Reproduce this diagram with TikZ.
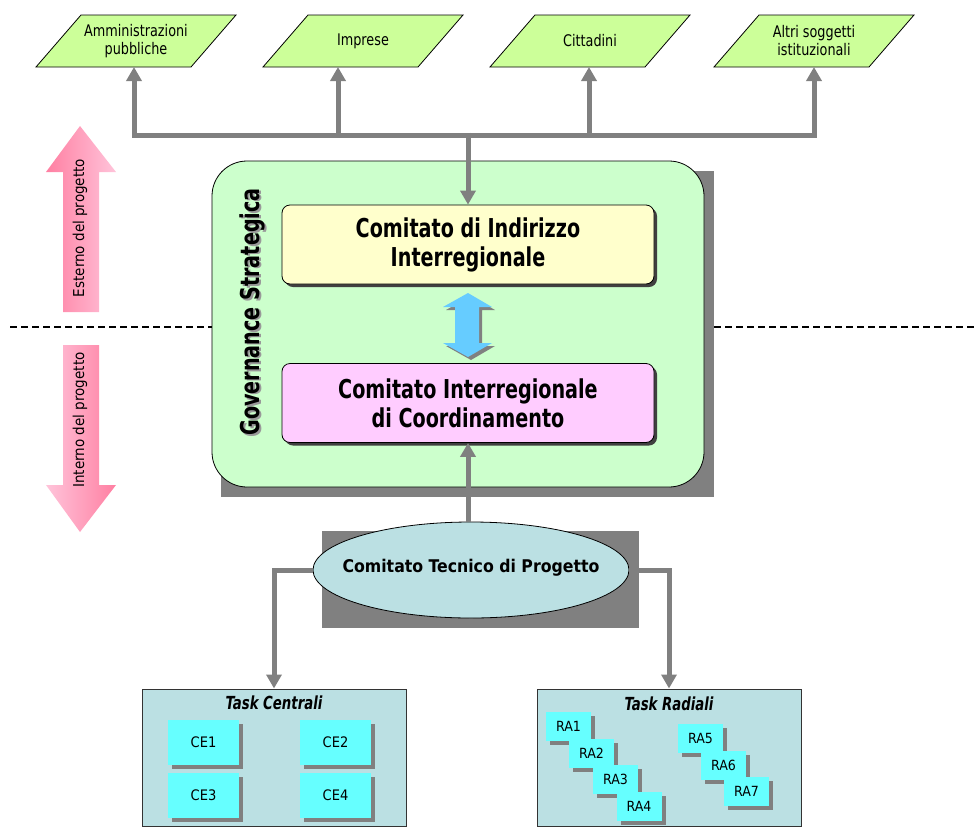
\documentclass[tikz,border=0pt]{standalone}
\usepackage{fontspec}
\setmainfont{DejaVu Sans Condensed}
\newfontfamily\sqH{DejaVu Sans Condensed}[FakeStretch=0.82]
\newfontfamily\sqN{DejaVu Sans Condensed}[FakeStretch=0.89]
\usetikzlibrary{arrows.meta,shapes.geometric,shadows,calc}
\definecolor{paragreen}{HTML}{CCFF99}
\definecolor{govgreen}{HTML}{CCFFCC}
\definecolor{linegray}{HTML}{808080}
\definecolor{ciiyellow}{HTML}{FFFFCC}
\definecolor{cicpink}{HTML}{FFCCFF}
\definecolor{teal}{HTML}{BBE0E3}
\definecolor{taskcyan}{HTML}{66FFFF}
\definecolor{arrowblue}{HTML}{66CCFF}
\definecolor{pinkdark}{HTML}{FF7FA2}
\definecolor{pinklight}{HTML}{FFC4DA}
\newcommand\mkpara[3]{%
  \draw[parashape] ({#2-100},67) -- ({#2+55},67) -- ({#2+100},15) -- ({#2-55},15) -- cycle;
  \node[paratext] (#1) at (#2,41) {#3};
}
\begin{document}
\begin{tikzpicture}[x=1pt,y=-1pt,
  parashape/.style={draw=black, fill=paragreen, line width=0.8pt},
  paratext/.style={minimum width=110pt, minimum height=52pt, inner sep=0pt, align=center, font=\sqN\fontsize{16}{18}\selectfont},
  gline/.style={draw=linegray, line width=5pt},
  garrow/.style={gline, -{Triangle[width=15pt,length=14pt]}},
  combox/.style={draw=black, line width=0.8pt, rounded corners=8pt, minimum width=372pt, minimum height=79pt, align=center,
     font=\sqH\bfseries\fontsize{26}{29}\selectfont, drop shadow={shadow xshift=3pt, shadow yshift=-3pt, fill=black!75, opacity=1}},
  taskbox/.style={draw=black!80, line width=1pt, fill=teal, minimum width=264pt, minimum height=137pt},
  tasktitle/.style={font=\sqH\bfseries\itshape\fontsize{18}{20}\selectfont},
  cebox/.style={fill=taskcyan, minimum width=71pt, minimum height=45pt, inner sep=0pt, font=\fontsize{14.5}{16}\selectfont,
     drop shadow={shadow xshift=4pt, shadow yshift=-4pt, fill=linegray, opacity=1}},
  rabox/.style={fill=taskcyan, minimum width=45pt, minimum height=29pt, inner sep=0pt, font=\fontsize{14}{16}\selectfont,
     drop shadow={shadow xshift=4pt, shadow yshift=-4pt, fill=linegray, opacity=1}},
  sidetext/.style={rotate=90, font=\fontsize{15}{17}\selectfont}
]
\useasboundingbox (0,0) rectangle (978,828);

% target parallelograms
\mkpara{amm}{136}{Amministrazioni\\pubbliche}
\mkpara{imp}{363}{Imprese}
\mkpara{cit}{590}{Cittadini}
\mkpara{alt}{814}{Altri soggetti\\istituzionali}

% dashed separator
\draw[dash pattern=on 7pt off 4pt, line width=1.5pt] (10,327) -- (212,327);
\draw[dash pattern=on 7pt off 4pt, line width=1.5pt] (714,327) -- (978,327);

% pink side arrows
\shade[left color=pinkdark, right color=pinklight] (80,126) -- (116,172) -- (99,172) -- (99,312) -- (63,312) -- (63,172) -- (46,172) -- cycle;
\shade[left color=pinklight, right color=pinkdark] (63,345) -- (99,345) -- (99,485) -- (116,485) -- (80,532) -- (46,485) -- (63,485) -- cycle;
\node[sidetext] (est) at (80,228) {Esterno del progetto};
\node[sidetext] (int) at (80,420) {Interno del progetto};

% governance box
\fill[linegray] (221,171) rectangle (714,497);
\node[draw=black, line width=0.8pt, fill=govgreen, rounded corners=35pt, minimum width=492pt, minimum height=326pt] (gov) at (458,324) {};
\node[rotate=90, font=\sqH\bfseries\fontsize{26}{29}\selectfont, text=black!40] at (254,313.5) {Governance Strategica};
\node[rotate=90, font=\sqH\bfseries\fontsize{26}{29}\selectfont] (govt) at (252.5,312) {Governance Strategica};

\node[combox, fill=ciiyellow] (cii) at (468,244.5) {Comitato di Indirizzo\\Interregionale};
\node[combox, fill=cicpink] (cic) at (468,403) {Comitato Interregionale\\di Coordinamento};

% blue double arrow
\fill[linegray] (471,296) -- (495,310) -- (482,310) -- (482,346) -- (495,346) -- (471,360) -- (446,346) -- (458,346) -- (458,310) -- (446,310) -- cycle;
\fill[arrowblue] (468,293) -- (492,307) -- (479,307) -- (479,343) -- (492,343) -- (468,357) -- (443,343) -- (455,343) -- (455,307) -- (443,307) -- cycle;

% bus to targets
\draw[gline] (134,135) -- (814,135);
\draw[garrow] (134,137.5) -- (134,67);
\draw[garrow] (338,137.5) -- (338,67);
\draw[garrow] (589,137.5) -- (589,67);
\draw[garrow] (814,137.5) -- (814,67);
\draw[garrow] (468,132.5) -- (cii.north);

% technical committee
\fill[linegray] (322,531) rectangle (639,628);
\node[draw=black, line width=0.8pt, fill=teal, ellipse, minimum width=316pt, minimum height=96pt, inner sep=0pt] (ctp) at (471,570) {};
\node[font=\bfseries\fontsize{17.5}{20}\selectfont] (ctpt) at (471,568) {Comitato Tecnico di Progetto};
\draw[garrow] (468,522) -- (cic.south);

% task boxes
\node[taskbox] (tc) at (274,757.5) {};
\node[taskbox] (tr) at (669,757.5) {};
\draw[garrow] (ctp.west) -| (tc.north);
\draw[garrow] (ctp.east) -| (tr.north);
\node[tasktitle] (tct) at (274,703) {Task Centrali};
\node[tasktitle] (trt) at (669,704) {Task Radiali};

\node[cebox] (ce1) at (203.5,742.5) {CE1};
\node[cebox] (ce2) at (335.5,742.5) {CE2};
\node[cebox] (ce3) at (203.5,795) {CE3};
\node[cebox] (ce4) at (335.5,795) {CE4};

\node[rabox] (ra1) at (568.5,726.5) {RA1};
\node[rabox] (ra2) at (591.5,753.5) {RA2};
\node[rabox] (ra3) at (615.5,779.5) {RA3};
\node[rabox] (ra4) at (639,806.5) {RA4};
\node[rabox] (ra5) at (700.5,738.5) {RA5};
\node[rabox] (ra6) at (723.5,765.5) {RA6};
\node[rabox] (ra7) at (746.5,791.5) {RA7};
\end{tikzpicture}
\end{document}
